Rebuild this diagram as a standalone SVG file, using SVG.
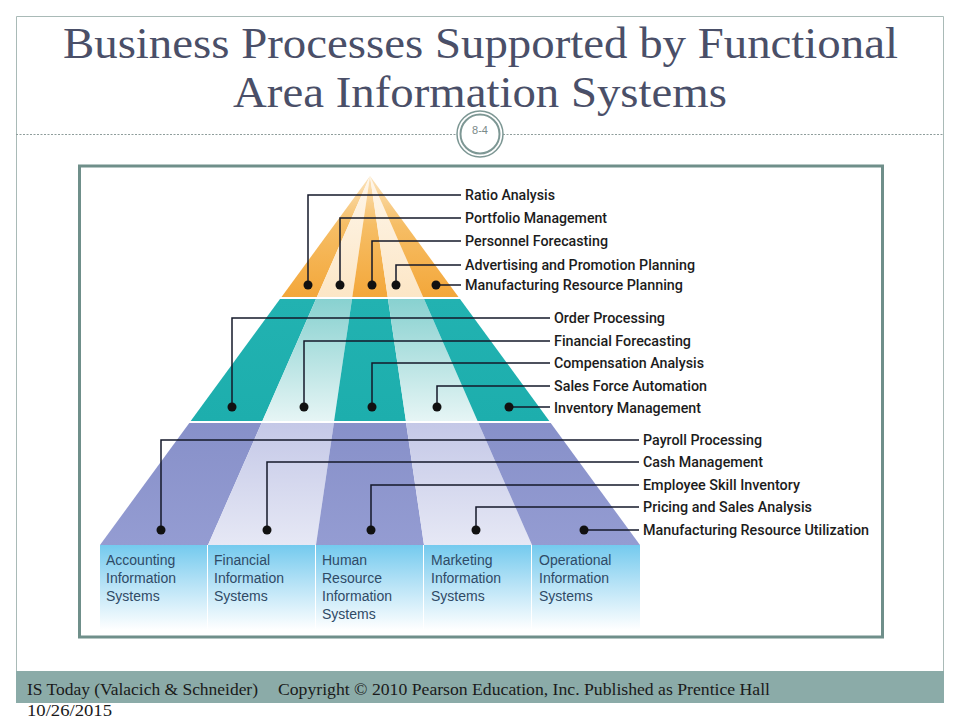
<svg xmlns="http://www.w3.org/2000/svg" width="960" height="720" viewBox="0 0 960 720">
<style>
.title{font-family:"Liberation Serif","Times New Roman",serif;font-size:44px;fill:#4A4F68}
.foot{font-family:"Liberation Serif","Times New Roman",serif;font-size:16px;fill:#1A1A1A}
.lbl{font-family:Roboto,"Liberation Sans",Arial,sans-serif;font-size:14px;font-weight:500;fill:#1C1C1C}
.col{font-family:"Liberation Sans",Arial,sans-serif;font-size:14px;fill:#2F4A66}
.conn{fill:none;stroke:#15192A;stroke-width:1.5}
</style>
<defs>
<marker id="dot" markerUnits="userSpaceOnUse" markerWidth="12" markerHeight="12" refX="6" refY="6" viewBox="0 0 12 12">
<circle cx="6" cy="6" r="4.5" fill="#111"/>
</marker>
<linearGradient id="oD" gradientUnits="userSpaceOnUse" x1="0" y1="176" x2="0" y2="297">
<stop offset="0" stop-color="#FBE3BC"/><stop offset="0.4" stop-color="#F6BE66"/><stop offset="1" stop-color="#F3A73A"/>
</linearGradient>
<linearGradient id="oL" gradientUnits="userSpaceOnUse" x1="0" y1="176" x2="0" y2="297">
<stop offset="0" stop-color="#FEF6EA"/><stop offset="1" stop-color="#FCE6C6"/>
</linearGradient>
<linearGradient id="tD" gradientUnits="userSpaceOnUse" x1="0" y1="299" x2="0" y2="421">
<stop offset="0" stop-color="#22B2B1"/><stop offset="1" stop-color="#1DAEAD"/>
</linearGradient>
<linearGradient id="tL" gradientUnits="userSpaceOnUse" x1="0" y1="299" x2="0" y2="421">
<stop offset="0" stop-color="#88D1D0"/><stop offset="1" stop-color="#E6F5F5"/>
</linearGradient>
<linearGradient id="pD" gradientUnits="userSpaceOnUse" x1="0" y1="423" x2="0" y2="545">
<stop offset="0" stop-color="#8790C9"/><stop offset="1" stop-color="#949CD2"/>
</linearGradient>
<linearGradient id="pL" gradientUnits="userSpaceOnUse" x1="0" y1="423" x2="0" y2="545">
<stop offset="0" stop-color="#C4C8E7"/><stop offset="1" stop-color="#E6E8F5"/>
</linearGradient>
<linearGradient id="base" gradientUnits="userSpaceOnUse" x1="0" y1="545" x2="0" y2="630">
<stop offset="0" stop-color="#74CAEE"/><stop offset="0.45" stop-color="#B5E2F6"/><stop offset="1" stop-color="#FFFFFF"/>
</linearGradient>
</defs>

<rect width="960" height="720" fill="#FFFFFF"/>

<g id="slide-frame">
<path d="M16.5,671 V16.5 H943.5 V671" fill="none" stroke="#A9BAB7" stroke-width="1"/>
<line x1="16" y1="134.5" x2="457" y2="134.5" stroke="#8E9D9B" stroke-width="1" stroke-dasharray="2,1.5"/>
<line x1="503" y1="134.5" x2="943" y2="134.5" stroke="#8E9D9B" stroke-width="1" stroke-dasharray="2,1.5"/>
</g>

<g id="title">
<text class="title" x="63" y="58" textLength="835" lengthAdjust="spacingAndGlyphs">Business Processes Supported by Functional</text>
<text class="title" x="233" y="107" textLength="494" lengthAdjust="spacingAndGlyphs">Area Information Systems</text>
</g>

<g id="slide-number">
<circle cx="480" cy="134" r="23" fill="#FFFFFF" stroke="#7D9794" stroke-width="1.5"/>
<circle cx="480" cy="134" r="19.5" fill="#FFFFFF" stroke="#7D9794" stroke-width="2"/>
<text x="480" y="134" text-anchor="middle" font-family="'Liberation Sans',Arial,sans-serif" font-size="11" fill="#7A8A89">8-4</text>
</g>

<g id="figure-frame">
<rect x="79.5" y="166" width="803" height="471" fill="#FFFFFF" stroke="#6F8F8A" stroke-width="3"/>
</g>

<g id="pyramid-top">
<polygon points="370,176 281.5,297 316.9,297" fill="url(#oD)"/>
<polygon points="370,176 316.9,297 352.3,297" fill="url(#oL)"/>
<polygon points="370,176 352.3,297 387.7,297" fill="url(#oD)"/>
<polygon points="370,176 387.7,297 423.1,297" fill="url(#oL)"/>
<polygon points="370,176 423.1,297 458.5,297" fill="url(#oD)"/>
</g>

<g id="pyramid-middle">
<polygon points="280,299 316,299 262.4,421 190.7,421" fill="url(#tD)"/>
<polygon points="316,299 352,299 334.1,421 262.4,421" fill="url(#tL)"/>
<polygon points="352,299 388,299 405.9,421 334.1,421" fill="url(#tD)"/>
<polygon points="388,299 424,299 477.6,421 405.9,421" fill="url(#tL)"/>
<polygon points="424,299 460,299 549.3,421 477.6,421" fill="url(#tD)"/>
</g>

<g id="pyramid-bottom">
<polygon points="189.3,423 261.6,423 208,545 100,545" fill="url(#pD)"/>
<polygon points="261.6,423 333.9,423 316,545 208,545" fill="url(#pL)"/>
<polygon points="333.9,423 406.1,423 424,545 316,545" fill="url(#pD)"/>
<polygon points="406.1,423 478.4,423 532,545 424,545" fill="url(#pL)"/>
<polygon points="478.4,423 550.7,423 640,545 532,545" fill="url(#pD)"/>
</g>

<g id="col-accounting">
<rect x="100" y="545" width="107" height="85" fill="url(#base)"/>
<text class="col" x="106" y="565">Accounting</text>
<text class="col" x="106" y="583">Information</text>
<text class="col" x="106" y="601">Systems</text>
</g>
<g id="col-financial">
<rect x="208" y="545" width="107" height="85" fill="url(#base)"/>
<text class="col" x="214" y="565">Financial</text>
<text class="col" x="214" y="583">Information</text>
<text class="col" x="214" y="601">Systems</text>
</g>
<g id="col-human-resource">
<rect x="316" y="545" width="107" height="85" fill="url(#base)"/>
<text class="col" x="322" y="565">Human</text>
<text class="col" x="322" y="583">Resource</text>
<text class="col" x="322" y="601">Information</text>
<text class="col" x="322" y="619">Systems</text>
</g>
<g id="col-marketing">
<rect x="424" y="545" width="107" height="85" fill="url(#base)"/>
<text class="col" x="431" y="565">Marketing</text>
<text class="col" x="431" y="583">Information</text>
<text class="col" x="431" y="601">Systems</text>
</g>
<g id="col-operational">
<rect x="532" y="545" width="108" height="85" fill="url(#base)"/>
<text class="col" x="539" y="565">Operational</text>
<text class="col" x="539" y="583">Information</text>
<text class="col" x="539" y="601">Systems</text>
</g>

<g id="connectors">
<path class="conn" marker-start="url(#dot)" d="M308,285 V195 H461"/>
<path class="conn" marker-start="url(#dot)" d="M340,285 V218 H461"/>
<path class="conn" marker-start="url(#dot)" d="M372,285 V241 H461"/>
<path class="conn" marker-start="url(#dot)" d="M396,285 V265 H461"/>
<path class="conn" marker-start="url(#dot)" d="M436,285 H461"/>
<path class="conn" marker-start="url(#dot)" d="M232,407 V318 H550"/>
<path class="conn" marker-start="url(#dot)" d="M304,407 V341 H550"/>
<path class="conn" marker-start="url(#dot)" d="M372,407 V363 H550"/>
<path class="conn" marker-start="url(#dot)" d="M437,407 V386 H550"/>
<path class="conn" marker-start="url(#dot)" d="M509,407 H550"/>
<path class="conn" marker-start="url(#dot)" d="M161,530 V440 H639"/>
<path class="conn" marker-start="url(#dot)" d="M267,530 V462 H639"/>
<path class="conn" marker-start="url(#dot)" d="M371,530 V485 H639"/>
<path class="conn" marker-start="url(#dot)" d="M476,530 V507 H639"/>
<path class="conn" marker-start="url(#dot)" d="M584,530 H639"/>
</g>

<g id="lbl-ratio-analysis"><text class="lbl" x="465" y="200" textLength="90" lengthAdjust="spacingAndGlyphs">Ratio Analysis</text></g>
<g id="lbl-portfolio-management"><text class="lbl" x="465" y="223" textLength="142" lengthAdjust="spacingAndGlyphs">Portfolio Management</text></g>
<g id="lbl-personnel-forecasting"><text class="lbl" x="465" y="246" textLength="143" lengthAdjust="spacingAndGlyphs">Personnel Forecasting</text></g>
<g id="lbl-advertising"><text class="lbl" x="465" y="270" textLength="230" lengthAdjust="spacingAndGlyphs">Advertising and Promotion Planning</text></g>
<g id="lbl-mrp"><text class="lbl" x="465" y="290" textLength="218" lengthAdjust="spacingAndGlyphs">Manufacturing Resource Planning</text></g>

<g id="lbl-order-processing"><text class="lbl" x="554" y="323" textLength="111" lengthAdjust="spacingAndGlyphs">Order Processing</text></g>
<g id="lbl-financial-forecasting"><text class="lbl" x="554" y="346" textLength="137" lengthAdjust="spacingAndGlyphs">Financial Forecasting</text></g>
<g id="lbl-compensation-analysis"><text class="lbl" x="554" y="368" textLength="150" lengthAdjust="spacingAndGlyphs">Compensation Analysis</text></g>
<g id="lbl-sales-force"><text class="lbl" x="554" y="391" textLength="153" lengthAdjust="spacingAndGlyphs">Sales Force Automation</text></g>
<g id="lbl-inventory-management"><text class="lbl" x="554" y="413" textLength="147" lengthAdjust="spacingAndGlyphs">Inventory Management</text></g>

<g id="lbl-payroll"><text class="lbl" x="643" y="445" textLength="119" lengthAdjust="spacingAndGlyphs">Payroll Processing</text></g>
<g id="lbl-cash"><text class="lbl" x="643" y="467" textLength="120" lengthAdjust="spacingAndGlyphs">Cash Management</text></g>
<g id="lbl-employee-skill"><text class="lbl" x="643" y="490" textLength="157" lengthAdjust="spacingAndGlyphs">Employee Skill Inventory</text></g>
<g id="lbl-pricing"><text class="lbl" x="643" y="512" textLength="169" lengthAdjust="spacingAndGlyphs">Pricing and Sales Analysis</text></g>
<g id="lbl-mru"><text class="lbl" x="643" y="535" textLength="226" lengthAdjust="spacingAndGlyphs">Manufacturing Resource Utilization</text></g>

<g id="footer">
<rect x="16" y="671" width="928" height="32" fill="#8BABA8"/>
<line x1="16" y1="703.5" x2="944" y2="703.5" stroke="#FFFFFF" stroke-width="1"/>
<text class="foot" x="27" y="695" textLength="231" lengthAdjust="spacingAndGlyphs">IS Today (Valacich &amp; Schneider)</text>
<text class="foot" x="278" y="695" textLength="492" lengthAdjust="spacingAndGlyphs">Copyright © 2010 Pearson Education, Inc. Published as Prentice Hall</text>
<text class="foot" x="27" y="716" textLength="85" lengthAdjust="spacingAndGlyphs">10/26/2015</text>
</g>
</svg>
